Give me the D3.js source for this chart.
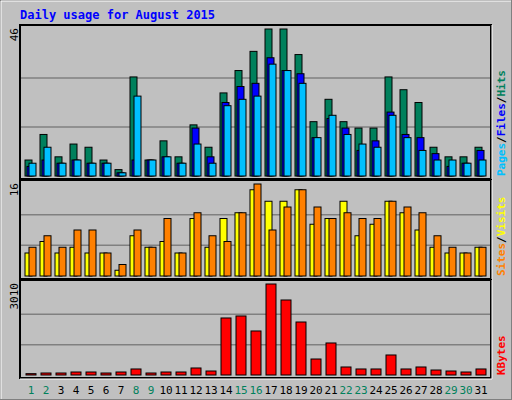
<!DOCTYPE html>
<html>
<head>
<meta charset="utf-8">
<script src="https://cdn.jsdelivr.net/npm/d3@7"></script>
<style>
  body { margin: 0; background: #c0c0c0; }
  text { font-family: "DejaVu Sans Mono", monospace; }
</style>
</head>
<body>
<div id="d3-container"></div>
<script>
// DATA
const days = d3.range(1, 32);
const weekends = [1, 2, 8, 9, 15, 16, 22, 23, 29, 30];
const hits = [5, 13, 6, 10, 9, 5, 2, 31, 5, 11, 6, 16, 9, 26, 33, 39, 46, 46, 38, 17, 24, 17, 15, 15, 31, 27, 23, 9, 6, 6, 9];
const files = [3, 5, 4, 5, 4, 4, 1, 5, 5, 6, 4, 15, 6, 23, 28, 29, 37, 33, 32, 12, 18, 15, 8, 11, 20, 13, 12, 7, 3, 4, 8];
const pages = [4, 9, 4, 5, 4, 4, 1, 25, 5, 6, 4, 10, 4, 22, 24, 25, 35, 33, 29, 12, 19, 13, 10, 9, 19, 12, 8, 5, 5, 4, 5];
const sites = [4, 6, 4, 5, 4, 4, 1, 7, 5, 6, 4, 10, 5, 10, 11, 15, 13, 13, 15, 9, 10, 13, 7, 9, 13, 11, 8, 5, 4, 4, 5];
const visits = [5, 7, 5, 8, 8, 4, 2, 8, 5, 10, 4, 11, 7, 6, 11, 16, 8, 12, 15, 12, 10, 11, 10, 10, 13, 12, 11, 7, 5, 4, 5];
const kbytes = [44, 66, 66, 99, 99, 66, 99, 199, 66, 99, 99, 232, 132, 1886, 1952, 1456, 3010, 2481, 1753, 529, 1059, 265, 199, 199, 662, 199, 265, 165, 132, 99, 199];

const width = 512, height = 400;
const left = 20, right = 491;

const svg = d3.select('#d3-container').append('svg')
  .attr('width', width).attr('height', height);

// frame
svg.append('rect').attr('x', 0.5).attr('y', 0.5).attr('width', 511).attr('height', 399)
  .attr('fill', '#c0c0c0').attr('stroke', '#808080');
svg.append('path').attr('d', 'M1,399V1H511').attr('fill', 'none').attr('stroke', '#fff');

svg.append('text').attr('x', 20).attr('y', 19)
  .attr('fill', '#0000ff').attr('font-weight', 'bold').attr('font-size', 12)
  .text('Daily usage for August 2015');

const xScale = d3.scaleBand().domain(days).range([21, 21 + 15 * 31]);

function panel(top, base, max, label, rightLabels, series) {
  const y = d3.scaleLinear().domain([0, max]).range([base, top + 4]);
  svg.append('rect').attr('x', left).attr('y', top).attr('width', right - left).attr('height', base - top + 3)
    .attr('fill', '#c0c0c0').attr('stroke', '#000').attr('stroke-width', 2);
  svg.append('path').attr('d', `M${right + 1},${top}V${base + 4}H${left}`)
    .attr('fill', 'none').attr('stroke', '#fff').attr('stroke-width', 1);
  [1, 2].forEach(k => {
    const gy = base - (base - top - 4) * k / 3;
    svg.append('line').attr('x1', left + 1).attr('x2', right - 1).attr('y1', gy).attr('y2', gy)
      .attr('stroke', '#808080').attr('stroke-width', 1.5);
  });
  series.forEach(s => {
    svg.append('g').selectAll('rect').data(s.values).join('rect')
      .attr('x', (d, i) => xScale(days[i]) + s.dx)
      .attr('y', d => y(d))
      .attr('width', s.w)
      .attr('height', d => base - y(d))
      .attr('fill', s.color).attr('stroke', '#000').attr('stroke-width', 1);
  });
  svg.append('text').attr('transform', `translate(18,${top + 3}) rotate(-90)`)
    .attr('text-anchor', 'end').attr('font-size', 11).attr('fill', '#000').text(label);
  const t = svg.append('text').attr('transform', `translate(505,${base}) rotate(-90)`)
    .attr('font-size', 11).attr('font-weight', 'bold');
  rightLabels.forEach((r, i) => {
    if (i > 0) t.append('tspan').attr('fill', '#000').text('/');
    t.append('tspan').attr('fill', r.color).text(r.text);
  });
}

panel(25, 176, 46, '46',
  [{ text: 'Pages', color: '#00c0ff' }, { text: 'Files', color: '#0000ff' }, { text: 'Hits', color: '#00805c' }],
  [{ values: hits, color: '#00805c', dx: 4, w: 7 },
   { values: files, color: '#0000ff', dx: 6, w: 7 },
   { values: pages, color: '#00c0ff', dx: 8, w: 7 }]);

panel(180, 276, 16, '16',
  [{ text: 'Sites', color: '#ff8000' }, { text: 'Visits', color: '#ffff00' }],
  [{ values: sites, color: '#ffff00', dx: 4, w: 7 },
   { values: visits, color: '#ff8000', dx: 8, w: 7 }]);

panel(280, 375, 3010, '3010',
  [{ text: 'KBytes', color: '#ff0000' }],
  [{ values: kbytes, color: '#ff0000', dx: 5, w: 10 }]);

// day labels
svg.append('g').selectAll('text').data(days).join('text')
  .attr('x', d => xScale(d) + 10)
  .attr('y', 394)
  .attr('text-anchor', 'middle').attr('font-size', 11)
  .attr('fill', d => weekends.includes(d) ? '#00805c' : '#000')
  .text(d => d);
</script>
</body>
</html>
